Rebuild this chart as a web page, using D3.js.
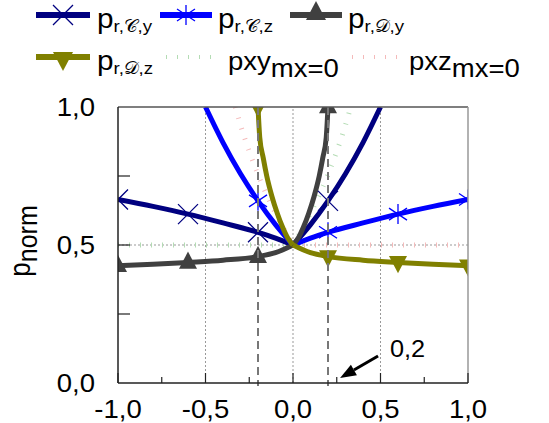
<!DOCTYPE html>
<html><head><meta charset="utf-8">
<script src="https://cdn.jsdelivr.net/npm/d3@7"></script>
<style>
html,body{margin:0;padding:0;background:#fff;}
svg{display:block;}
text{font-family:"Liberation Sans",Arial,sans-serif;fill:#000;}
</style></head>
<body>
<svg id="chart" width="549" height="423"></svg>
<script>
// ---------------- data ----------------
const xTickValues = [-1, -0.5, 0, 0.5, 1];
const xMinorTicks = [-0.75, -0.25, 0.25, 0.75];
const yTickValues = [0, 0.5, 1];
const yInnerTicks = [0.25, 0.5, 0.75];
const xGrid = [-0.5, 0, 0.5];
const yGrid = [0.5];
const markerX = [-1, -0.6, -0.2, 0.2, 0.6, 1];
const refX = [-0.2, 0.2];

// p_r,C,y (navy, x markers)
const cyX = [-1, -0.8, -0.6, -0.4, -0.2, -0.1, 0, 0.1, 0.2, 0.3, 0.4, 0.5];
const cyY = [0.665, 0.64, 0.612, 0.58, 0.546, 0.525, 0.5, 0.574, 0.66, 0.758, 0.871, 1.0];
// p_r,C,z (blue, asterisk)
const czX = [-0.5, -0.4, -0.3, -0.2, -0.1, 0, 0.1, 0.2, 0.4, 0.6, 0.8, 1];
const czY = [1.0, 0.871, 0.758, 0.66, 0.574, 0.5, 0.525, 0.546, 0.58, 0.612, 0.64, 0.665];
// p_r,D,y (dark grey, triangle up)
const dyX = [-1, -0.8, -0.6, -0.4, -0.2, -0.1, 0, 0.03, 0.06, 0.09, 0.12, 0.15, 0.17, 0.19, 0.2];
const dyY = [0.425, 0.43, 0.437, 0.445, 0.458, 0.472, 0.5, 0.525, 0.565, 0.615, 0.675, 0.75, 0.815, 0.89, 1.0];
// p_r,D,z (olive, triangle down)
const dzX = [-0.2, -0.19, -0.17, -0.15, -0.12, -0.09, -0.06, -0.03, 0, 0.1, 0.2, 0.4, 0.6, 0.8, 1];
const dzY = [1.0, 0.89, 0.815, 0.75, 0.675, 0.615, 0.565, 0.525, 0.5, 0.472, 0.458, 0.445, 0.437, 0.43, 0.425];
// pxy_mx=0 (faint green)
const pxyX = [-1, 0, 0.1, 0.2, 0.3, 0.33];
const pxyY = [0.5, 0.5, 0.615, 0.755, 0.935, 1.0];
// pxz_mx=0 (faint pink)
const pxzX = [-0.33, -0.3, -0.2, -0.1, 0, 1];
const pxzY = [1.0, 0.935, 0.755, 0.615, 0.5, 0.5];

const legendMain = ["p", "p", "p", "p", "pxy", "pxz"];
const legendSub = ["r,\u{1D49E},y", "r,\u{1D49E},z", "r,\u{1D49F},y", "r,\u{1D49F},z", "mx=0", "mx=0"];

// ---------------- layout ----------------
const svg = d3.select("#chart");
const SX = 1.1;
const x = d3.scaleLinear().domain([-1, 1]).range([118, 468]);
const y = d3.scaleLinear().domain([0, 1]).range([383, 107]);
const fmt = v => d3.format(".1f")(v).replace(".", ",").replace("\u2212", "-");

const series = [
  {xs: pxyX, ys: pxyY, color: "#b4dcb4", width: 5, dash: "1,10", marker: null},
  {xs: pxzX, ys: pxzY, color: "#f4baba", width: 5, dash: "1,10", marker: null},
  {xs: cyX, ys: cyY, color: "#000080", width: 5, marker: "x", mcolor: "#000080"},
  {xs: czX, ys: czY, color: "#0000ff", width: 5, marker: "star", mcolor: "#0000ff"},
  {xs: dyX, ys: dyY, color: "#404040", width: 5, marker: "up", mcolor: "#404040"},
  {xs: dzX, ys: dzY, color: "#808000", width: 5, marker: "down", mcolor: "#808000"}
];

svg.append("defs").append("clipPath").attr("id", "plotclip")
  .append("rect").attr("x", x(-1)).attr("y", y(1)).attr("width", x(1) - x(-1)).attr("height", y(0) - y(1));

// grid
const grid = svg.append("g").attr("stroke", "#999").attr("stroke-width", 1).attr("stroke-dasharray", "2,2");
xGrid.forEach(v => grid.append("line").attr("x1", x(v)).attr("x2", x(v)).attr("y1", y(0)).attr("y2", y(1)));
yGrid.forEach(v => grid.append("line").attr("x1", x(-1)).attr("x2", x(1)).attr("y1", y(v)).attr("y2", y(v)));

const plot = svg.append("g").attr("clip-path", "url(#plotclip)");

// dashed reference lines
refX.forEach(v => svg.append("line").attr("x1", x(v)).attr("x2", x(v)).attr("y1", y(1)).attr("y2", y(0) + 3)
  .attr("stroke", "#777").attr("stroke-width", 2).attr("stroke-dasharray", "8,5"));

const lineGen = d3.line().x(d => x(d[0])).y(d => y(d[1])).curve(d3.curveMonotoneX);

function markerPath(type, s) {
  const h = s / 2;
  if (type === "x") return `M${-h},${-h}L${h},${h}M${-h},${h}L${h},${-h}`;
  if (type === "star") return `M0,${-h}L0,${h}M${-h * 0.9},${-h * 0.6}L${h * 0.9},${h * 0.6}M${-h * 0.9},${h * 0.6}L${h * 0.9},${-h * 0.6}`;
  if (type === "up") return `M0,${-s * 0.6}L${s * 0.5},${s * 0.35}L${-s * 0.5},${s * 0.35}Z`;
  if (type === "down") return `M0,${s * 0.6}L${s * 0.5},${-s * 0.35}L${-s * 0.5},${-s * 0.35}Z`;
}
function drawMarker(g, type, cx, cy, color, s) {
  const p = g.append("path").attr("d", markerPath(type, s)).attr("transform", `translate(${cx},${cy})`);
  if (type === "x" || type === "star") p.attr("fill", "none").attr("stroke", color).attr("stroke-width", 1.3);
  else p.attr("fill", color).attr("stroke", "none");
}

series.forEach(sr => {
  const pts = sr.xs.map((v, i) => [v, sr.ys[i]]);
  const left = pts.filter(p => p[0] <= 0), right = pts.filter(p => p[0] >= 0);
  [left, right].forEach(seg => {
    if (seg.length < 2) return;
    const path = plot.append("path").attr("d", lineGen(seg)).attr("fill", "none")
      .attr("stroke", sr.color).attr("stroke-width", sr.width).attr("stroke-linejoin", "round");
    if (sr.dash) path.attr("stroke-dasharray", sr.dash);
  });
});
series.forEach(sr => {
  if (!sr.marker) return;
  sr.xs.forEach((v, i) => {
    if (markerX.some(m => Math.abs(m - v) < 1e-9)) {
      drawMarker(plot, sr.marker, x(v), y(sr.ys[i]), sr.mcolor, sr.marker === "up" || sr.marker === "down" ? 18 : 20);
    }
  });
});

// axes frame
svg.append("line").attr("x1", x(-1)).attr("x2", x(1)).attr("y1", y(1)).attr("y2", y(1)).attr("stroke", "#555").attr("stroke-width", 1.5);
svg.append("line").attr("x1", x(1)).attr("x2", x(1)).attr("y1", y(0)).attr("y2", y(1)).attr("stroke", "#999").attr("stroke-width", 1.5);
svg.append("line").attr("x1", x(-1)).attr("x2", x(1)).attr("y1", y(0)).attr("y2", y(0)).attr("stroke", "#222").attr("stroke-width", 1.5);
svg.append("line").attr("x1", x(-1)).attr("x2", x(-1)).attr("y1", y(0)).attr("y2", y(1)).attr("stroke", "#222").attr("stroke-width", 1.5);

// ticks
xTickValues.forEach(v => svg.append("line").attr("x1", x(v)).attr("x2", x(v)).attr("y1", y(0)).attr("y2", y(0) - 10).attr("stroke", "#222").attr("stroke-width", 1.2));
xMinorTicks.forEach(v => svg.append("line").attr("x1", x(v)).attr("x2", x(v)).attr("y1", y(0)).attr("y2", y(0) - 6).attr("stroke", "#222").attr("stroke-width", 1.2));
yInnerTicks.forEach(v => svg.append("line").attr("x1", x(-1)).attr("x2", x(-1) + 12).attr("y1", y(v)).attr("y2", y(v)).attr("stroke", "#222").attr("stroke-width", 1.2));

function stext(px, py, anchor, parts, rot) {
  const tr = rot ? `translate(${px},${py}) rotate(-90) scale(1,${SX})` : `translate(${px},${py}) scale(${SX},1)`;
  const t = svg.append("text").attr("transform", tr).attr("text-anchor", anchor);
  parts.forEach(p => {
    const ts = t.append("tspan").text(p.t).attr("font-size", p.size);
    if (p.dy) ts.attr("dy", p.dy);
  });
  return t;
}

// tick labels
xTickValues.forEach(v => stext(x(v), 418, "middle", [{t: fmt(v), size: 25}]));
yTickValues.forEach(v => stext(95, y(v) + 9, "end", [{t: fmt(v), size: 25}]));

// y label
stext(30, 241, "middle", [{t: "p", size: 26}, {t: "norm", size: 25, dy: 6}], true);

// annotation arrow
const a0 = [x(0.486), y(0.098)], a1 = [x(0.269), y(0.018)];
const ang = Math.atan2(a1[1] - a0[1], a1[0] - a0[0]);
const hl = 16, hw = 6;
const base = [a1[0] - hl * Math.cos(ang), a1[1] - hl * Math.sin(ang)];
svg.append("line").attr("x1", a0[0]).attr("y1", a0[1]).attr("x2", base[0]).attr("y2", base[1]).attr("stroke", "#000").attr("stroke-width", 3);
svg.append("path").attr("d", `M${a1[0]},${a1[1]}L${base[0] + hw * Math.sin(ang)},${base[1] - hw * Math.cos(ang)}L${base[0] - hw * Math.sin(ang)},${base[1] + hw * Math.cos(ang)}Z`).attr("fill", "#000");
stext(390, 357, "start", [{t: "0,2", size: 23}]);

// legend
const legendPos = [
  {lx0: 36, lx1: 90, ly: 15, tx: 97},
  {lx0: 160, lx1: 212, ly: 15, tx: 218},
  {lx0: 290, lx1: 342, ly: 15, tx: 348},
  {lx0: 36, lx1: 90, ly: 57, tx: 97},
  {lx0: 166, lx1: 214, ly: 57, tx: 228},
  {lx0: 352, lx1: 400, ly: 57, tx: 409}
];
const legendSeries = [series[2], series[3], series[4], series[5], series[0], series[1]];
const lg = svg.append("g");
legendSeries.forEach((sr, i) => {
  const p = legendPos[i];
  const l = lg.append("line").attr("x1", p.lx0).attr("x2", p.lx1).attr("y1", p.ly).attr("y2", p.ly)
    .attr("stroke", sr.color).attr("stroke-width", sr.dash ? 4 : 6);
  if (sr.dash) l.attr("stroke-dasharray", sr.dash);
  if (sr.marker) drawMarker(lg, sr.marker, (p.lx0 + p.lx1) / 2, p.ly + (sr.marker === "down" ? 2 : (sr.marker === "up" ? -2 : 0)), sr.mcolor, 20);
  const isPx = i >= 4;
  stext(p.tx, p.ly + 13, "start", isPx
    ? [{t: legendMain[i], size: 25}, {t: legendSub[i], size: 25, dy: 7}]
    : [{t: legendMain[i], size: 27}, {t: legendSub[i], size: 17, dy: 4}]);
});
</script>
</body></html>
